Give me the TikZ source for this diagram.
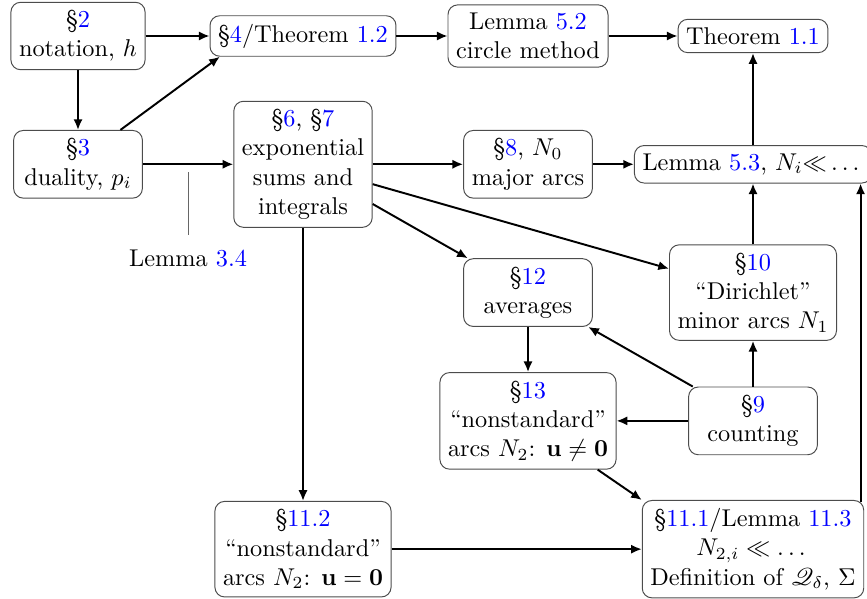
\documentclass[tikz,border=0pt]{standalone}
\usepackage{amsmath}
\usepackage{mathrsfs}
\usetikzlibrary{positioning,arrows.meta}
\newcommand{\rf}[1]{\textcolor{blue}{#1}}

\begin{document}
\begin{tikzpicture}[x=92.6pt, y=-52.8pt, >={Latex[length=4.4pt,width=3.8pt]}]
  \tikzset{box/.style={draw=black!70, rounded corners, align=center, minimum width=53pt},
    arr/.style={->, thick}}
  \useasboundingbox (-0.3467,-0.2806) rectangle (3.5067,4.388);
  \node[box] (s2)   at (0,0) {\S\rf{2}\\ notation, $h$};
  \node[box] (s4)   at (1,0) {\S\rf{4}/Theorem \rf{1.2}};
  \node[box] (l52)  at (2,0) {Lemma \rf{5.2}\\ circle method};
  \node[box] (t11)  at (3,0) {Theorem \rf{1.1}};
  \node[box] (s3)   at (0,1) {\S\rf{3}\\ duality, $p_i$};
  \node[box] (s67)  at (1,1) {\S\rf{6}, \S\rf{7}\\ exponential\\ sums and\\ integrals};
  \node[box] (s8)   at (2,1) {\S\rf{8}, $N_0$\\ major arcs};
  \node[box] (l53)  at (3,1) {Lemma \rf{5.3}, $N_i{\ll}\dots$};
  \node[box] (s12)  at (2,2) {\S\rf{12}\\ averages};
  \node[box] (s10)  at (3,2) {\S\rf{10}\\ ``Dirichlet''\\ minor arcs $N_1$};
  \node[box] (s13)  at (2,3) {\S\rf{13}\\ ``nonstandard''\\ arcs $N_2$: $\mathbf{u}\neq\mathbf{0}$};
  \node[box] (s9)   at (3,3) {\S\rf{9}\\ counting};
  \node[box] (s112) at (1,4) {\S\rf{11.2}\\ ``nonstandard''\\ arcs $N_2$: $\mathbf{u}=\mathbf{0}$};
  \node[box] (s111) at (3,4) {\S\rf{11.1}/Lemma \rf{11.3}\\ $N_{2,i}\ll\dots$\\ Definition of $\mathscr{Q}_\delta$, $\Sigma$};

  \draw[arr] (s2) -- (s4);
  \draw[arr] (s4) -- (l52);
  \draw[arr] (l52) -- (t11);
  \draw[arr] (s2) -- (s3);
  \draw[arr] (s3.39) -- (s4.194);
  \draw[arr] (s3) -- coordinate (e34) (s67);
  \draw[arr] (s67) -- (s8);
  \draw[arr] (s8) -- (l53);
  \draw[arr] (l53) -- (t11);
  \draw[arr] (s67) -- (s10);
  \draw[arr] (s67) -- (s12);
  \draw[arr] (s67) -- (s112);
  \draw[arr] (s10) -- (l53);
  \draw[arr] (s12) -- (s13);
  \draw[arr] (s9) -- (s12);
  \draw[arr] (s9) -- (s10);
  \draw[arr] (s9) -- (s13);
  \draw[arr] (s13.-35) -- (s111.north west);
  \draw[arr] (s112) -- (s111);
  \draw[arr] ([xshift=-1.5pt,yshift=-1pt]s111.north east) -- ([xshift=-1.5pt]s111.north east |- l53.south);

  \node (lem34) [below=31.7pt of e34] {Lemma \rf{3.4}};
  \draw[black!60] ([yshift=-3.3pt]e34) -- ([yshift=2.5pt]lem34.north);
\end{tikzpicture}
\end{document}
